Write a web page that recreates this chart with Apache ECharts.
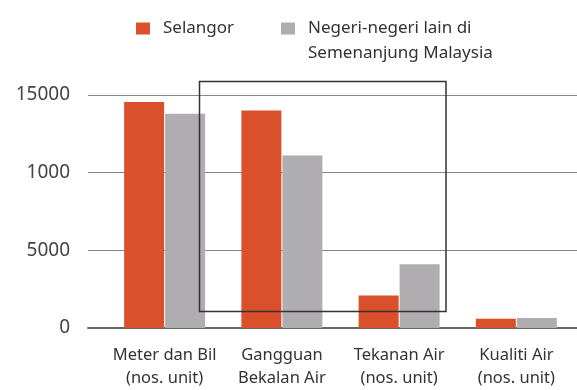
<!DOCTYPE html>
<html>
<head>
<meta charset="utf-8">
<script src="https://cdn.jsdelivr.net/npm/echarts@6/dist/echarts.min.js"></script>
<style>
  html, body { margin: 0; padding: 0; background: #ffffff; }
  #chart { width: 577px; height: 390px; }
</style>
</head>
<body>
<div id="chart"></div>
<script>
// Complaint counts by type: Selangor vs other Peninsular states
const categories = [
  'Meter dan Bil\n(nos. unit)',
  'Gangguan\nBekalan Air',
  'Tekanan Air\n(nos. unit)',
  'Kualiti Air\n(nos. unit)'
];
const seriesNames = ['Selangor', 'Negeri-negeri lain di\nSemenanjung Malaysia'];
const selangorValues = [14550, 14000, 2100, 600];
const otherStatesValues = [13800, 11100, 4100, 650];
const yTickValues = [0, 5000, 10000, 15000];
const yTickLabels = ['0', '5000', '1000', '15000'];

const FONT = '"Noto Sans", "Liberation Sans", sans-serif';
const TEXT = '#333333';
const RED = '#d9502b';
const GREY = '#b0adb0';

const chart = echarts.init(document.getElementById('chart'), null, { renderer: 'canvas' });

const plotTop = 95;
const plotHeight = 233;

const legendText = { fontFamily: FONT, fontSize: 17, color: TEXT, lineHeight: 25, padding: [0, 0, 6, 8] };

chart.setOption({
  animation: false,
  backgroundColor: '#ffffff',
  textStyle: { fontFamily: FONT },
  legend: [
    {
      data: [seriesNames[0]],
      left: 136, top: 13, padding: 0,
      itemWidth: 14, itemHeight: 12,
      icon: 'rect',
      textStyle: legendText
    },
    {
      data: [seriesNames[1]],
      left: 281, top: -12, padding: 0,
      itemWidth: 14, itemHeight: 12,
      icon: 'rect',
      // a leading blank line keeps the first line level with the swatch
      formatter: function (name) { return ' \n' + name; },
      textStyle: legendText
    }
  ],
  grid: [
    // gridlines and value labels
    { left: 88, right: 0, top: plotTop, height: plotHeight },
    // bar groups
    { left: 106, width: 469, top: plotTop, height: plotHeight }
  ],
  xAxis: [
    {
      gridIndex: 0, type: 'value', min: 0, max: 1,
      axisLine: { show: true, lineStyle: { color: '#666666', width: 2 } },
      axisTick: { show: false }, axisLabel: { show: false }, splitLine: { show: false }
    },
    {
      gridIndex: 1, type: 'category', data: categories,
      axisLine: { show: false }, axisTick: { show: false },
      axisLabel: {
        interval: 0,
        margin: 16, fontFamily: FONT, fontSize: 16.5, lineHeight: 23, color: TEXT
      }
    }
  ],
  yAxis: [
    {
      gridIndex: 0, type: 'value', min: 0, max: 15000, interval: 5000,
      axisLine: { show: false }, axisTick: { show: false },
      axisLabel: {
        margin: 18, fontFamily: FONT, fontSize: 19, color: '#444444',
        formatter: function (v) {
          const i = yTickValues.indexOf(v);
          return i >= 0 ? yTickLabels[i] : '';
        }
      },
      splitLine: { show: true, lineStyle: { color: '#888888', width: 1 } }
    },
    {
      gridIndex: 1, type: 'value', min: 0, max: 15000, show: false,
      splitLine: { show: false }
    }
  ],
  series: [
    {
      name: seriesNames[0], type: 'bar', xAxisIndex: 1, yAxisIndex: 1,
      data: selangorValues, barWidth: 40, barGap: '2.5%',
      itemStyle: { color: RED }
    },
    {
      name: seriesNames[1], type: 'bar', xAxisIndex: 1, yAxisIndex: 1,
      data: otherStatesValues, barWidth: 40, barGap: '2.5%',
      itemStyle: { color: GREY }
    }
  ],
  graphic: [
    {
      // outline box around the middle two groups
      type: 'rect', z: 100, silent: true,
      shape: { x: 199.5, y: 81.5, width: 246.5, height: 230 },
      style: { fill: null, stroke: '#333333', lineWidth: 1.5 }
    }
  ]
});
</script>
</body>
</html>
